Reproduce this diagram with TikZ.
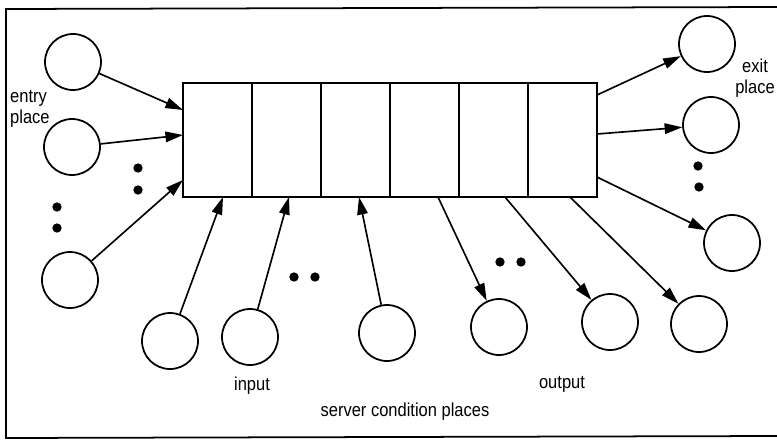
\documentclass[tikz,border=0pt]{standalone}
\usepackage{fontspec}
\setmainfont[FakeStretch=0.88]{Liberation Sans}
\usetikzlibrary{arrows.meta}
\begin{document}
\begin{tikzpicture}[x=0.03cm,y=-0.03cm,
  place/.style={circle,draw,line width=1.5pt,minimum size=1.68cm,inner sep=0pt},
  cell/.style={rectangle,draw,line width=1.5pt,minimum width=2.07cm,minimum height=3.42cm,inner sep=0pt},
  conn/.style={line width=1.4pt,-{Triangle[length=15pt,width=9pt]}},
  dotn/.style={circle,fill,inner sep=0pt,minimum size=0.28cm},
  lbl/.style={font=\fontsize{16}{18}\selectfont,inner sep=0pt}]
\useasboundingbox (0,0) rectangle (777,441);
\draw[line width=1.5pt] (777,7) -- (6,9) -- (6,438) -- (777,436);
% queue cells
\foreach \i in {1,...,6}{
  \node[cell] (cell\i) at ({183+34.5+69*(\i-1)},140) {};
}
% places
\node[place] (L1) at (73,62) {};
\node[place] (L2) at (72,147) {};
\node[place] (L3) at (70,280) {};
\node[place] (E1) at (707,44) {};
\node[place] (E2) at (711,125) {};
\node[place] (E3) at (732,243) {};
\node[place] (B1) at (170,341) {};
\node[place] (B2) at (250,337) {};
\node[place] (B3) at (387,333) {};
\node[place] (O1) at (499,327) {};
\node[place] (O2) at (610,322) {};
\node[place] (O3) at (699,324) {};
% attachment points on the queue
\coordinate (in1) at (183,110);
\coordinate (in2) at (183,135);
\coordinate (in3) at (183,180);
\coordinate (out1) at (597,95);
\coordinate (out2) at (597,134);
\coordinate (out3) at (597,177);
\coordinate (up1) at (223,197);
\coordinate (up2) at (289,197);
\coordinate (up3) at (359,197);
\coordinate (dn1) at (438,197);
\coordinate (dn2) at (505,197);
\coordinate (dn3) at (570,197);
% connectors
\draw[conn] (L1) -- (in1);
\draw[conn] (L2) -- (in2);
\draw[conn] (L3) -- (in3);
\draw[conn] (out1) -- (E1);
\draw[conn] (out2) -- (E2);
\draw[conn] (out3) -- (E3);
\draw[conn] (B1) -- (up1);
\draw[conn] (B2) -- (up2);
\draw[conn] (B3) -- (up3);
\draw[conn] (dn1) -- (O1);
\draw[conn] (dn2) -- (O2);
\draw[conn] (dn3) -- (O3);
% ellipsis dots
\node[dotn] (d1) at (138,168) {};
\node[dotn] (d2) at (138,190) {};
\node[dotn] (d3) at (57,207) {};
\node[dotn] (d4) at (57,228) {};
\node[dotn] (d5) at (294,277) {};
\node[dotn] (d6) at (315,277) {};
\node[dotn] (d7) at (500,262) {};
\node[dotn] (d8) at (521,262) {};
\node[dotn] (d9) at (698,166) {};
\node[dotn] (d10) at (699,187) {};
% labels
\node[lbl,align=left,anchor=north west] (entry) at (10,90) {entry\\place};
\node[lbl,align=center,anchor=north] (exit) at (755,59) {exit\\place};
\node[lbl] (input) at (252,386) {input};
\node[lbl] (output) at (562,384) {output};
\node[lbl] (server) at (405,412) {server condition places};
\end{tikzpicture}
\end{document}
